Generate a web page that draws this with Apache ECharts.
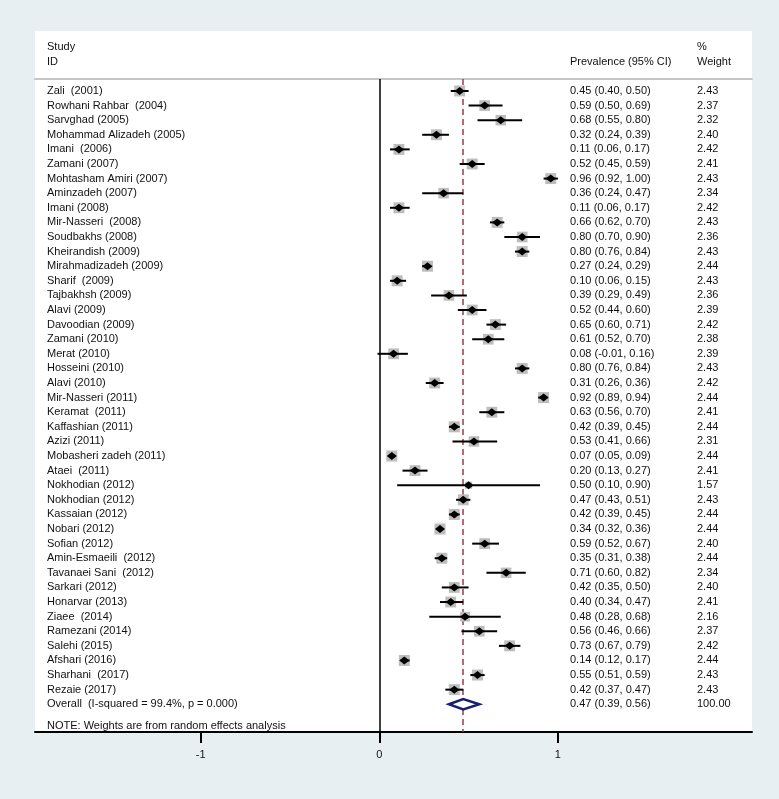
<!DOCTYPE html>
<html>
<head>
<meta charset="utf-8">
<script src="https://cdn.jsdelivr.net/npm/echarts@6/dist/echarts.min.js"></script>
<style>
html,body{margin:0;padding:0;background:#e8eff3;}
#chart{width:779px;height:799px;}
</style>
</head>
<body>
<div id="chart"></div>
<script>
const studies = ["Zali  (2001)","Rowhani Rahbar  (2004)","Sarvghad (2005)","Mohammad Alizadeh (2005)","Imani  (2006)","Zamani (2007)","Mohtasham Amiri (2007)","Aminzadeh (2007)","Imani (2008)","Mir-Nasseri  (2008)","Soudbakhs (2008)","Kheirandish (2009)","Mirahmadizadeh (2009)","Sharif  (2009)","Tajbakhsh (2009)","Alavi (2009)","Davoodian (2009)","Zamani (2010)","Merat (2010)","Hosseini (2010)","Alavi (2010)","Mir-Nasseri (2011)","Keramat  (2011)","Kaffashian (2011)","Azizi (2011)","Mobasheri zadeh (2011)","Ataei  (2011)","Nokhodian (2012)","Nokhodian (2012)","Kassaian (2012)","Nobari (2012)","Sofian (2012)","Amin-Esmaeili  (2012)","Tavanaei Sani  (2012)","Sarkari (2012)","Honarvar (2013)","Ziaee  (2014)","Ramezani (2014)","Salehi (2015)","Afshari (2016)","Sharhani  (2017)","Rezaie (2017)"];
const prevalence = [0.45,0.59,0.68,0.32,0.11,0.52,0.96,0.36,0.11,0.66,0.80,0.80,0.27,0.10,0.39,0.52,0.65,0.61,0.08,0.80,0.31,0.92,0.63,0.42,0.53,0.07,0.20,0.50,0.47,0.42,0.34,0.59,0.35,0.71,0.42,0.40,0.48,0.56,0.73,0.14,0.55,0.42];
const ciLow = [0.40,0.50,0.55,0.24,0.06,0.45,0.92,0.24,0.06,0.62,0.70,0.76,0.24,0.06,0.29,0.44,0.60,0.52,-0.01,0.76,0.26,0.89,0.56,0.39,0.41,0.05,0.13,0.10,0.43,0.39,0.32,0.52,0.31,0.60,0.35,0.34,0.28,0.46,0.67,0.12,0.51,0.37];
const ciHigh = [0.50,0.69,0.80,0.39,0.17,0.59,1.00,0.47,0.17,0.70,0.90,0.84,0.29,0.15,0.49,0.60,0.71,0.70,0.16,0.84,0.36,0.94,0.70,0.45,0.66,0.09,0.27,0.90,0.51,0.45,0.36,0.67,0.38,0.82,0.50,0.47,0.68,0.66,0.79,0.17,0.59,0.47];
const weights = [2.43,2.37,2.32,2.40,2.42,2.41,2.43,2.34,2.42,2.43,2.36,2.43,2.44,2.43,2.36,2.39,2.42,2.38,2.39,2.43,2.42,2.44,2.41,2.44,2.31,2.44,2.41,1.57,2.43,2.44,2.44,2.40,2.44,2.34,2.40,2.41,2.16,2.37,2.42,2.44,2.43,2.43];
const overallLabel = "Overall  (I-squared = 99.4%, p = 0.000)";
const overallEst = 0.47, overallLow = 0.39, overallHigh = 0.56, overallWeight = 100.00;
const noteLabel = "NOTE: Weights are from random effects analysis";
const xTickValues = [-1, 0, 1];

const FONT = "'Liberation Sans', Arial, Helvetica, sans-serif";
const TXT = '#111111';
const n = studies.length;
const overallRow = n;
const noteRow = n + 1.5;

const rowNames = {};
const rowCI = {};
const rowW = {};
studies.forEach((s, i) => {
  rowNames[i] = s;
  rowCI[i] = prevalence[i].toFixed(2) + ' (' + ciLow[i].toFixed(2) + ', ' + ciHigh[i].toFixed(2) + ')';
  rowW[i] = weights[i].toFixed(2);
});
rowNames[overallRow] = overallLabel;
rowCI[overallRow] = overallEst.toFixed(2) + ' (' + overallLow.toFixed(2) + ', ' + overallHigh.toFixed(2) + ')';
rowW[overallRow] = overallWeight.toFixed(2);
rowNames[noteRow] = noteLabel;

const rowValues = studies.map((s, i) => i).concat([overallRow]);
const nameValues = rowValues.concat([noteRow]);

const studyData = studies.map((s, i) => [prevalence[i], i, ciLow[i], ciHigh[i], weights[i]]);
const maxW = Math.max.apply(null, weights);

const yBase = {
  type: 'value', inverse: true, min: -0.82, max: 43.9, position: 'left',
  axisLine: {show: false}, axisTick: {show: false}, splitLine: {show: false}
};
function labelAxis(values, map, margin) {
  return Object.assign({}, yBase, {
    axisLabel: {
      inside: true, margin: margin, customValues: values,
      formatter: v => (map[v] !== undefined ? map[v] : ''),
      fontFamily: FONT, fontSize: 11, color: TXT, align: 'left'
    }
  });
}

const chart = echarts.init(document.getElementById('chart'), null, {renderer: 'canvas'});
chart.setOption({
  backgroundColor: '#e8eff3',
  animation: false,
  graphic: [
    {type: 'rect', z: -100, shape: {x: 35, y: 31, width: 717, height: 701}, style: {fill: '#ffffff'}},
    {type: 'text', x: 47, y: 47, style: {text: 'Study', font: '11px ' + FONT, fill: TXT, verticalAlign: 'middle'}},
    {type: 'text', x: 47, y: 62, style: {text: 'ID', font: '11px ' + FONT, fill: TXT, verticalAlign: 'middle'}},
    {type: 'text', x: 570, y: 62, style: {text: 'Prevalence (95% CI)', font: '11px ' + FONT, fill: TXT, verticalAlign: 'middle'}},
    {type: 'text', x: 697, y: 47, style: {text: '%', font: '11px ' + FONT, fill: TXT, verticalAlign: 'middle'}},
    {type: 'text', x: 697, y: 62, style: {text: 'Weight', font: '11px ' + FONT, fill: TXT, verticalAlign: 'middle'}}
  ],
  grid: {left: 35, right: 27, top: 79, bottom: 67, containLabel: false},
  xAxis: [
    {
      type: 'value', min: -1.928, max: 2.087, position: 'bottom',
      axisLine: {show: true, onZero: false, lineStyle: {color: '#000', width: 2}},
      axisTick: {show: true, customValues: xTickValues, length: 11, inside: false, lineStyle: {color: '#000', width: 2}},
      axisLabel: {customValues: xTickValues, margin: 17, fontFamily: FONT, fontSize: 11, color: TXT},
      splitLine: {show: false}
    },
    {
      type: 'value', min: -1.928, max: 2.087, position: 'top',
      axisLine: {show: true, onZero: false, lineStyle: {color: '#c6c6c6', width: 2}},
      axisTick: {show: false}, axisLabel: {show: false}, splitLine: {show: false}
    }
  ],
  yAxis: [
    labelAxis(nameValues, rowNames, 12),
    labelAxis(rowValues, rowCI, 535),
    labelAxis(rowValues, rowW, 662)
  ],
  series: [
    {
      type: 'custom', xAxisIndex: 0, yAxisIndex: 0, z: 5,
      data: studyData,
      renderItem: function (params, api) {
        const row = api.value(1);
        const c = api.coord([api.value(0), row]);
        const l = api.coord([api.value(2), row]);
        const h = api.coord([api.value(3), row]);
        const side = 11 * api.value(4) / maxW;
        return {
          type: 'group',
          children: [
            {type: 'rect', shape: {x: c[0] - side / 2, y: c[1] - side / 2, width: side, height: side}, style: {fill: '#bdbdbd'}},
            {type: 'line', shape: {x1: l[0], y1: c[1], x2: h[0], y2: c[1]}, style: {stroke: '#000', lineWidth: 2}},
            {type: 'polygon', shape: {points: [[c[0] - 5, c[1]], [c[0], c[1] - 4], [c[0] + 5, c[1]], [c[0], c[1] + 4]]}, style: {fill: '#000'}}
          ]
        };
      },
      markLine: {
        silent: true, symbol: 'none', label: {show: false}, animation: false,
        data: [
          {xAxis: 0, lineStyle: {color: '#000', width: 1.5, type: 'solid'}},
          {xAxis: overallEst, lineStyle: {color: '#9a3b4c', width: 1.5, type: [6, 4]}}
        ]
      }
    },
    {
      type: 'custom', xAxisIndex: 0, yAxisIndex: 0, z: 6,
      data: [[overallEst, overallRow, overallLow, overallHigh]],
      renderItem: function (params, api) {
        const row = api.value(1);
        const c = api.coord([api.value(0), row]);
        const l = api.coord([api.value(2), row]);
        const h = api.coord([api.value(3), row]);
        const hh = api.size([0, 1])[1] * 0.36;
        return {
          type: 'polygon',
          shape: {points: [[l[0], c[1]], [c[0], c[1] - hh], [h[0], c[1]], [c[0], c[1] + hh]]},
          style: {fill: '#fff', stroke: '#17206e', lineWidth: 2.5}
        };
      }
    }
  ]
});
</script>
</body>
</html>
